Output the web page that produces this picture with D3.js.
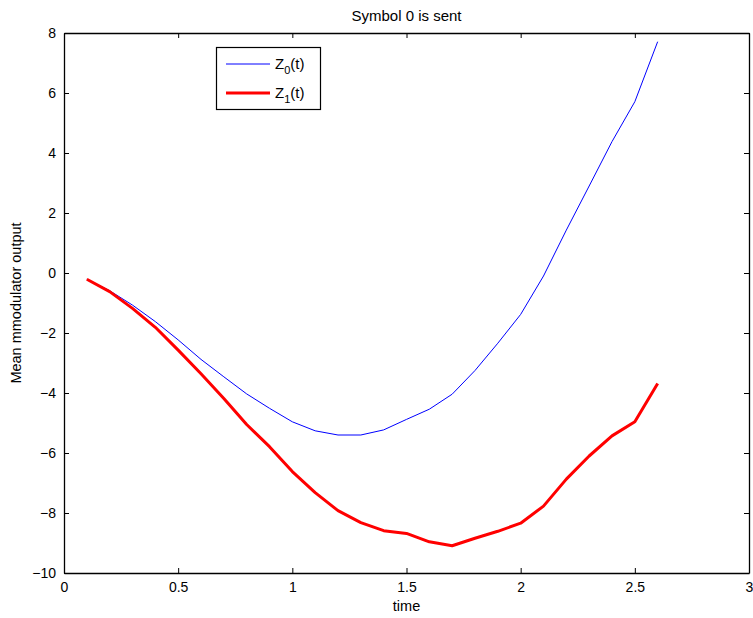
<!DOCTYPE html>
<html><head><meta charset="utf-8">
<script src="https://cdn.jsdelivr.net/npm/d3@7"></script>
<style>body{margin:0;background:#fff}svg{display:block;font-family:"Liberation Sans",Arial,Helvetica,sans-serif}</style>
</head><body><svg id="c" width="753" height="618"></svg>
<script>
const time = [0.1,0.2,0.3,0.4,0.5,0.6,0.7,0.8,0.9,1.0,1.1,1.2,1.3,1.4,1.5,1.6,1.7,1.8,1.9,2.0,2.1,2.2,2.3,2.4,2.5,2.6];
const z0 = [-0.21,-0.59,-1.07,-1.62,-2.23,-2.88,-3.46,-4.03,-4.51,-4.96,-5.26,-5.40,-5.40,-5.23,-4.88,-4.54,-4.04,-3.25,-2.34,-1.38,-0.10,1.43,2.90,4.38,5.71,7.71];
const z1 = [-0.21,-0.62,-1.18,-1.81,-2.57,-3.36,-4.18,-5.05,-5.79,-6.62,-7.32,-7.92,-8.32,-8.59,-8.68,-8.96,-9.09,-8.84,-8.61,-8.34,-7.77,-6.87,-6.10,-5.43,-4.96,-3.68];
const xTicks = [0,0.5,1,1.5,2,2.5,3];
const yTicks = [-10,-8,-6,-4,-2,0,2,4,6,8];
const title = "Symbol 0 is sent", xLabel = "time", yLabel = "Mean mmodulator output";

const svg = d3.select("#c");
const L=64, R=749, T=33, B=573;
const x = d3.scaleLinear().domain([0,3]).range([L,R]);
const y = d3.scaleLinear().domain([-10,8]).range([B,T]);
const fmt = v => String(v).replace("-", "\u2212");

const tl = 5;
svg.append("g").attr("transform",`translate(0,${B})`)
  .call(d3.axisBottom(x).tickValues(xTicks).tickFormat(fmt).tickSizeInner(-tl).tickSizeOuter(0).tickPadding(9));
svg.append("g").attr("transform",`translate(0,${T})`)
  .call(d3.axisTop(x).tickValues(xTicks).tickFormat("").tickSizeInner(-tl).tickSizeOuter(0));
svg.append("g").attr("transform",`translate(${L},0)`)
  .call(d3.axisLeft(y).tickValues(yTicks).tickFormat(fmt).tickSizeInner(-tl).tickSizeOuter(0).tickPadding(8));
svg.append("g").attr("transform",`translate(${R},0)`)
  .call(d3.axisRight(y).tickValues(yTicks).tickFormat("").tickSizeInner(-tl).tickSizeOuter(0));
svg.selectAll(".domain").attr("stroke","#000").attr("stroke-width",1.3);
svg.selectAll(".tick line").attr("stroke","#000").attr("stroke-width",1);
svg.selectAll(".tick text").attr("font-size",14).attr("fill","#000")
  .attr("font-family",'"Liberation Sans",Arial,sans-serif');

const line = d3.line().x((d,i)=>x(time[i])).y(d=>y(d));
svg.append("path").datum(z0).attr("d",line).attr("fill","none").attr("stroke","#0000ff").attr("stroke-width",1);
svg.append("path").datum(z1).attr("d",line).attr("fill","none").attr("stroke","#ff0000").attr("stroke-width",3).attr("stroke-linejoin","round");

svg.append("text").attr("x",(L+R)/2).attr("y",21).attr("text-anchor","middle").attr("font-size",15).text(title);
svg.append("text").attr("x",(L+R)/2).attr("y",611).attr("text-anchor","middle").attr("font-size",14.5).text(xLabel);
svg.append("text").attr("transform",`translate(21,${(T+B)/2}) rotate(-90)`).attr("text-anchor","middle").attr("font-size",14.5).text(yLabel);

const lg = svg.append("g");
lg.append("rect").attr("x",216.5).attr("y",47.5).attr("width",104).attr("height",62).attr("fill","#fff").attr("stroke","#000").attr("stroke-width",1.2);
const items = [{c:"#0000ff",w:1,s:"0",yy:64},{c:"#ff0000",w:3,s:"1",yy:93}];
items.forEach(it=>{
  lg.append("line").attr("x1",226).attr("x2",270).attr("y1",it.yy).attr("y2",it.yy).attr("stroke",it.c).attr("stroke-width",it.w);
  const t = lg.append("text").attr("x",275).attr("y",it.yy+5).attr("font-size",15);
  t.append("tspan").text("Z");
  t.append("tspan").attr("dy",5).attr("font-size",11).text(it.s);
  t.append("tspan").attr("dy",-5).text("(t)");
});
</script></body></html>
